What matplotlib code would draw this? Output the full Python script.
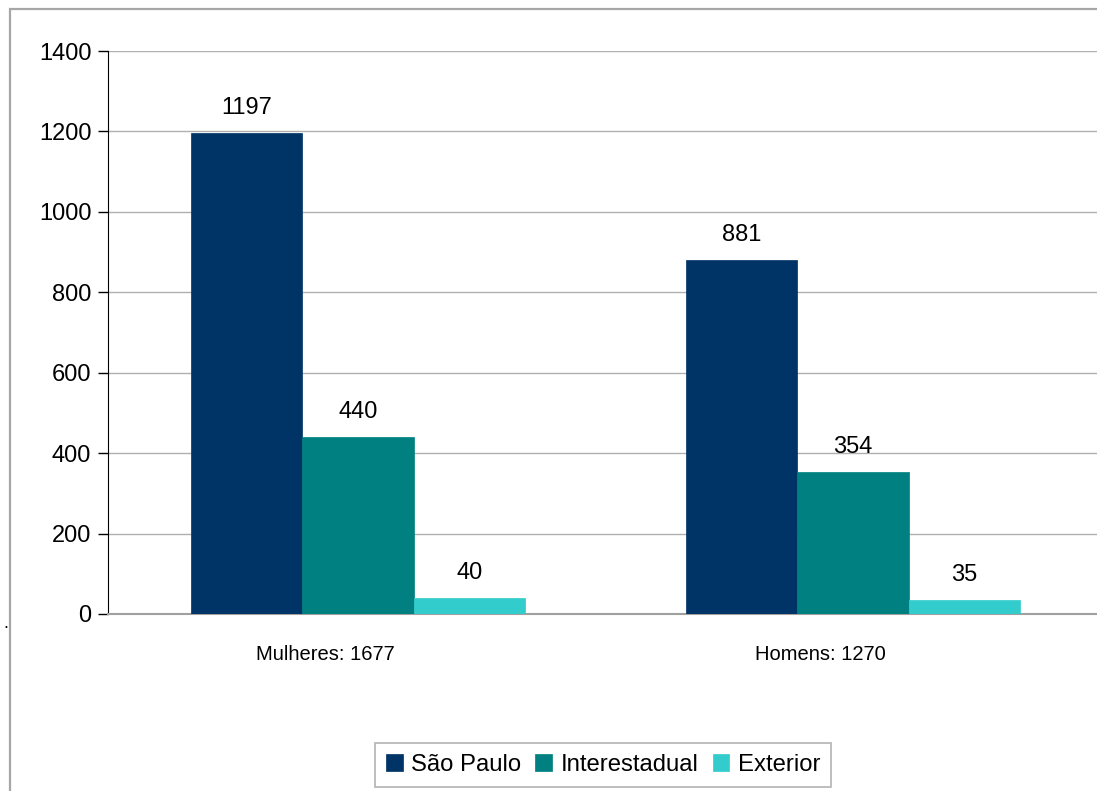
#!/usr/bin/env python3

import matplotlib

matplotlib.use("Agg")
import matplotlib.pyplot as plt
import numpy as np
from matplotlib.patches import Rectangle

categories = ["Mulheres: 1677", "Homens: 1270"]
series_names = ["São Paulo", "Interestadual", "Exterior"]
sao_paulo = [1197, 881]
interestadual = [440, 354]
exterior = [40, 35]
y_ticks = [0, 200, 400, 600, 800, 1000, 1200, 1400]

colors = ["#003366", "#008080", "#33CCCC"]


def main():
    plt.rcParams["font.family"] = ["Liberation Sans", "DejaVu Sans"]

    fig = plt.figure(figsize=(10.97, 7.91), dpi=100)
    ax = fig.add_axes([108 / 1097, 1 - 614 / 791, 990 / 1097, 563 / 791])

    # outer chart frame (runs off the right and bottom edges)
    frame = Rectangle(
        (9.5 / 1097, -0.1), 1.2, 1 - 9.5 / 791 + 0.1,
        transform=fig.transFigure, fill=False,
        edgecolor="#a6a6a6", linewidth=1.6, clip_on=False,
    )
    fig.add_artist(frame)
    fig.text(6 / 1097, 1 - 632 / 791, ".", fontsize=13, ha="center", va="bottom")

    x = np.arange(len(categories))
    width = 0.225
    offsets = [-width, 0, width]
    for values, name, color, off in zip(
        [sao_paulo, interestadual, exterior], series_names, colors, offsets
    ):
        bars = ax.bar(x + off + 0.005, values, width, color=color, label=name,
                      edgecolor=color, linewidth=0.5, zorder=3)
        for bar, v in zip(bars, values):
            ax.text(bar.get_x() + bar.get_width() / 2, v + 35, str(v),
                    ha="center", va="bottom", fontsize=17, color="black")

    ax.set_xlim(-0.5, 1.5)
    ax.set_ylim(0, 1400)
    ax.set_yticks(y_ticks)
    ax.set_yticklabels([str(t) for t in y_ticks], fontsize=17)
    # category labels sit a little left of the group centres
    ax.set_xticks(x - 0.06)
    ax.set_xticklabels(categories, fontsize=14.5)
    ax.tick_params(axis="x", length=0, pad=22)
    ax.tick_params(axis="y", length=7, width=1, color="black", pad=5)

    ax.yaxis.grid(True, color="#b0b0b0", linewidth=1, zorder=0)
    ax.set_axisbelow(True)
    for side in ["top", "right"]:
        ax.spines[side].set_visible(False)
    ax.spines["left"].set_color("black")
    ax.spines["bottom"].set_color("#a0a0a0")
    ax.spines["bottom"].set_linewidth(1.5)

    ax.legend(
        loc="center", bbox_to_anchor=(0.5, -0.268), ncol=3, fontsize=17.2,
        frameon=True, fancybox=False, edgecolor="#a0a0a0",
        handlelength=0.7, handleheight=0.7, handletextpad=0.35,
        columnspacing=0.6, borderpad=0.45,
    ).get_frame().set_linewidth(1.2)

    fig.savefig("out.png", dpi=100)
    plt.close(fig)


if __name__ == "__main__":
    main()
